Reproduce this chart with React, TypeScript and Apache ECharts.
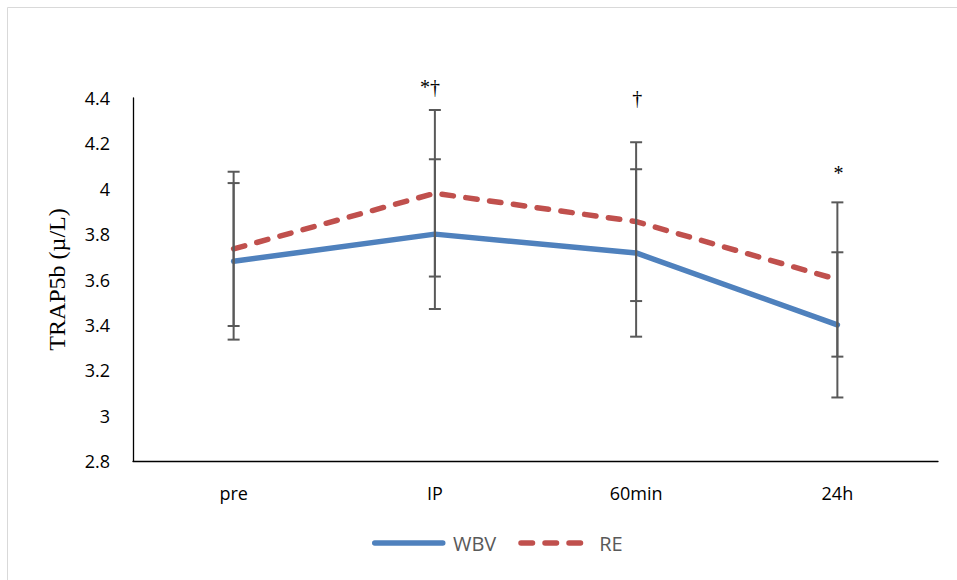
import React, { useEffect, useRef } from "react";
import * as echarts from "echarts";

const categories = ["pre", "IP", "60min", "24h"];
const wbvValues = [3.68, 3.8, 3.717, 3.4];
const reValues = [3.735, 3.98, 3.855, 3.6];
const wbvErrors = [0.345, 0.33, 0.369, 0.32];
const reErrors = [0.34, 0.367, 0.35, 0.34];
const annotationIndex = [1, 2, 3];
const annotationValue = [4.45, 4.4, 4.07];
const annotationText = ["*\u2020", "\u2020", "*"];
const yMin = 2.8;
const yMax = 4.4;
const yStep = 0.2;

const errorData = [
  ...wbvValues.map((v, i) => [i, v - wbvErrors[i], v + wbvErrors[i]]),
  ...reValues.map((v, i) => [i, v - reErrors[i], v + reErrors[i]]),
];

export default function App() {
  const ref = useRef<HTMLDivElement>(null);
  useEffect(() => {
    if (!ref.current) return;
    const chart = echarts.init(ref.current, null, { renderer: "svg" });
    const sans = "'Open Sans', 'Noto Sans', sans-serif";
    const serif = "'Liberation Serif', 'DejaVu Serif', serif";
    chart.setOption({
      animation: false,
      backgroundColor: "#ffffff",
      graphic: [
        {
          type: "rect",
          shape: { x: 7.5, y: 7.5, width: 1000, height: 1000 },
          style: { fill: "none", stroke: "#d9d9d9", lineWidth: 1 },
          silent: true,
        },
      ],
      grid: { left: 133, right: 19, top: 98, bottom: 119 },
      legend: {
        data: ["WBV", "RE"],
        bottom: 22,
        left: 367,
        itemWidth: 68,
        itemHeight: 14,
        itemGap: 22,
        itemStyle: { opacity: 0 },
        lineStyle: { width: 5.5, cap: "round" },
        formatter: (name: string) => " " + name,
        textStyle: { color: "#595959", fontSize: 20, fontFamily: sans },
      },
      xAxis: {
        type: "category",
        data: categories,
        boundaryGap: true,
        axisLine: { lineStyle: { color: "#000", width: 1.3 } },
        axisTick: { show: false },
        axisLabel: { color: "#000", fontSize: 18, fontFamily: sans, margin: 23 },
      },
      yAxis: {
        type: "value",
        min: yMin,
        max: yMax,
        interval: yStep,
        name: "TRAP5b (\u00b5/L)",
        nameLocation: "middle",
        nameGap: 64,
        nameTextStyle: { color: "#000", fontSize: 24, fontFamily: serif },
        splitLine: { show: false },
        axisLine: { show: true, lineStyle: { color: "#000", width: 1.3 } },
        axisTick: { show: false },
        axisLabel: {
          color: "#000",
          fontSize: 18,
          fontFamily: sans,
          margin: 23,
          formatter: (v: number) => String(Math.round(v * 10) / 10),
        },
      },
      series: [
        {
          name: "WBV",
          type: "line",
          data: wbvValues,
          symbol: "none",
          color: "#4F81BD",
          lineStyle: { color: "#4F81BD", width: 5.5, cap: "round" },
          z: 2,
        },
        {
          name: "RE",
          type: "line",
          data: reValues,
          symbol: "none",
          color: "#C0504D",
          lineStyle: {
            color: "#C0504D",
            width: 5.5,
            type: [11.5, 12.5],
            cap: "round",
          },
          z: 2,
        },
        {
          name: "errors",
          type: "custom",
          data: errorData,
          encode: { x: 0, y: [1, 2] },
          clip: false,
          z: 3,
          renderItem: (params: any, api: any) => {
            const x = api.value(0);
            const lo = api.coord([x, api.value(1)]);
            const hi = api.coord([x, api.value(2)]);
            const hw = 6;
            const style = { stroke: "#595959", lineWidth: 2 };
            return {
              type: "group",
              children: [
                { type: "line", shape: { x1: lo[0], y1: lo[1], x2: hi[0], y2: hi[1] }, style },
                { type: "line", shape: { x1: lo[0] - hw, y1: lo[1], x2: lo[0] + hw, y2: lo[1] }, style },
                { type: "line", shape: { x1: hi[0] - hw, y1: hi[1], x2: hi[0] + hw, y2: hi[1] }, style },
              ],
            };
          },
        },
        {
          name: "annotations",
          type: "custom",
          data: annotationIndex.map((c, i) => [c, annotationValue[i]]),
          encode: { x: 0, y: 1 },
          clip: false,
          z: 4,
          renderItem: (params: any, api: any) => {
            const p = api.coord([api.value(0), api.value(1)]);
            const txt = annotationText[params.dataIndex];
            const dx = txt.length > 1 ? -5 : 1;
            return {
              type: "text",
              x: p[0] + dx,
              y: p[1],
              style: {
                text: txt,
                fill: "#000",
                fontSize: 20,
                fontFamily: serif,
                align: "center",
                verticalAlign: "middle",
              },
            };
          },
        },
      ],
    });
    return () => chart.dispose();
  }, []);
  return (
    <div
      ref={ref}
      style={{ position: "absolute", left: 0, top: 0, width: 957, height: 580 }}
    />
  );
}
